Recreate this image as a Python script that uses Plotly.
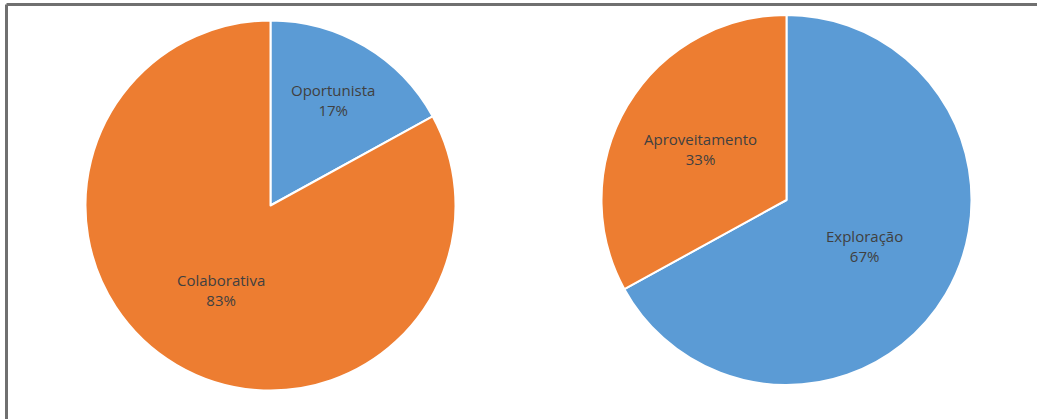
import math
import plotly.graph_objects as go

W, H = 1037, 419

# Left pie: interaction type
left_labels = ["Oportunista", "Colaborativa"]
left_values = [17, 83]
left_colors = ["#5B9BD5", "#ED7D31"]

# Right pie: usage type
right_labels = ["Exploração", "Aproveitamento"]
right_values = [67, 33]
right_colors = ["#5B9BD5", "#ED7D31"]

# Pie geometry in pixels (center x, center y, radius)
left_geom = (270.5, 205.5, 185)
right_geom = (786.5, 200, 185)

# Radial fraction of each slice's label from the centre
left_label_r = [0.66, 0.53]
right_label_r = [0.49, 0.54]

fig = go.Figure()


def add_pie(labels, values, colors, geom, label_r):
    cx, cy, r = geom
    fig.add_trace(go.Pie(
        labels=labels,
        values=values,
        marker=dict(colors=colors, line=dict(color="white", width=2)),
        sort=False,
        direction="clockwise",
        rotation=0,
        textinfo="none",
        hoverinfo="label+percent",
        showlegend=False,
        domain=dict(x=[(cx - r) / W, (cx + r) / W],
                    y=[1 - (cy + r) / H, 1 - (cy - r) / H]),
    ))
    total = sum(values)
    cum = 0
    for lab, val, f in zip(labels, values, label_r):
        mid = (cum + val / 2) / total * 2 * math.pi
        cum += val
        px = cx + f * r * math.sin(mid)
        py = cy - f * r * math.cos(mid)
        pct = round(val / total * 100)
        fig.add_annotation(
            x=px / W, y=1 - py / H, xref="paper", yref="paper",
            xanchor="center", yanchor="middle",
            text=f"{lab}<br>{pct}%", showarrow=False,
            font=dict(family="Open Sans", size=15, color="#404040"),
            align="center",
        )


add_pie(left_labels, left_values, left_colors, left_geom, left_label_r)
add_pie(right_labels, right_values, right_colors, right_geom, right_label_r)

# Frame lines along the top and left edges
fig.add_shape(type="line", xref="paper", yref="paper",
              x0=6.5 / W, x1=1, y0=1 - 4.5 / H, y1=1 - 4.5 / H,
              line=dict(color="#707070", width=3))
fig.add_shape(type="line", xref="paper", yref="paper",
              x0=6.5 / W, x1=6.5 / W, y0=0, y1=1 - 4.5 / H,
              line=dict(color="#707070", width=3))

fig.update_layout(
    width=W, height=H,
    margin=dict(l=0, r=0, t=0, b=0),
    paper_bgcolor="white",
    plot_bgcolor="white",
)

fig.write_html("out.html")
